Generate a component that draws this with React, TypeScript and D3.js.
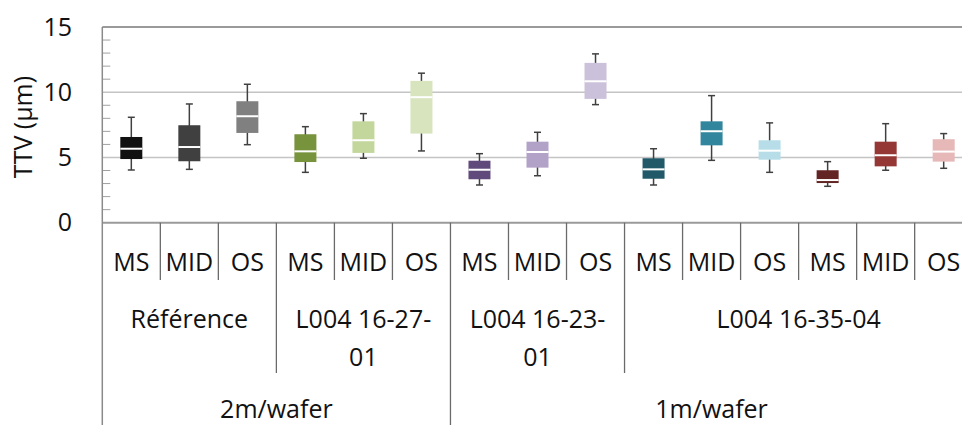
import React from "react";
import * as d3 from "d3";

const leafLabels = ["MS", "MID", "OS", "MS", "MID", "OS", "MS", "MID", "OS", "MS", "MID", "OS", "MS", "MID", "OS"];
const groupLabels = [["Référence"], ["L004 16-27-", "01"], ["L004 16-23-", "01"], ["L004 16-35-04"]];
const groupSpans = [[0, 3], [3, 6], [6, 9], [9, 15]];
const majorLabels = ["2m/wafer", "1m/wafer"];
const majorSpans = [[0, 6], [6, 15]];

const whiskerMax = [8.08, 9.1, 10.61, 7.36, 8.36, 11.46, 5.29, 6.93, 12.94, 5.67, 9.74, 7.65, 4.68, 7.59, 6.83];
const q3 = [6.57, 7.47, 9.31, 6.78, 7.77, 10.87, 4.75, 6.21, 12.25, 4.94, 7.77, 6.32, 4.02, 6.21, 6.4];
const medians = [5.67, 5.8, 8.16, 5.47, 6.32, 9.62, 4.06, 5.42, 10.84, 4.09, 7.01, 5.52, 3.27, 5.17, 5.45];
const q1 = [4.88, 4.71, 6.88, 4.65, 5.35, 6.83, 3.33, 4.22, 9.49, 3.37, 5.93, 4.83, 3.04, 4.32, 4.68];
const whiskerMin = [4.04, 4.09, 5.98, 3.86, 4.94, 5.5, 2.89, 3.6, 9.05, 2.89, 4.78, 3.86, 2.79, 4.02, 4.17];
const boxColors = ["#111111", "#404040", "#808080", "#77933c", "#c3d69b", "#d7e4bd", "#604a7b", "#b3a2c7", "#ccc1da", "#215968", "#31859c", "#b7dee8", "#632523", "#953735", "#e6b9b8"];

const yTicks = [0, 5, 10, 15];
const yMinorTicks = d3.range(1, 15).filter((v) => v % 5 !== 0);
const yTitle = "TTV (µm)";

const W = 962;
const H = 425;
const FONT = "'Open Sans', 'Noto Sans', sans-serif";

export default function App() {
  const x = d3.scaleBand<number>().domain(d3.range(leafLabels.length)).range([102.3, 972.7]).padding(0);
  const y = d3.scaleLinear().domain([0, 15]).range([222.7, 27]);
  const bw = 22;
  const cap = 7;
  const left = x.range()[0];
  const right = x.range()[1];
  const edge = (i: number) => (i < leafLabels.length ? (x(i) as number) : right);

  return (
    <div style={{ position: "absolute", left: 0, top: 0 }}>
      <svg width={W} height={H} style={{ display: "block", background: "#fff" }} fontFamily={FONT}>
        {yTicks.map((t) => (
          <line key={"g" + t} x1={left} x2={right} y1={y(t)} y2={y(t)}
            stroke={t === 0 || t === 15 ? "#9a9a9a" : "#c4c4c4"} strokeWidth={t === 0 || t === 15 ? 2 : 1.5} />
        ))}
        {yMinorTicks.map((t) => (
          <line key={"m" + t} x1={left} x2={left + 8} y1={y(t)} y2={y(t)} stroke="#a0a0a0" strokeWidth={1} />
        ))}
        <line x1={left} x2={left} y1={y(15)} y2={H} stroke="#8a8a8a" strokeWidth={1.5} />
        {yTicks.map((t) => (
          <text key={"t" + t} x={72} y={y(t)} dy="0.35em" textAnchor="end" fontSize={25} fill="#111">{t}</text>
        ))}
        <text transform={`translate(32,127) rotate(-90)`} textAnchor="middle" fontSize={25} fill="#111">{yTitle}</text>

        {leafLabels.map((_, i) => {
          const cx = (x(i) as number) + x.bandwidth() / 2;
          return (
            <g key={"b" + i}>
              <line x1={cx} x2={cx} y1={y(whiskerMax[i])} y2={y(whiskerMin[i])} stroke="#404040" strokeWidth={1.5} />
              <line x1={cx - cap / 2} x2={cx + cap / 2} y1={y(whiskerMax[i])} y2={y(whiskerMax[i])} stroke="#404040" strokeWidth={1.5} />
              <line x1={cx - cap / 2} x2={cx + cap / 2} y1={y(whiskerMin[i])} y2={y(whiskerMin[i])} stroke="#404040" strokeWidth={1.5} />
              <rect x={cx - bw / 2} y={y(q3[i])} width={bw} height={y(q1[i]) - y(q3[i])} fill={boxColors[i]} />
              <line x1={cx - bw / 2} x2={cx + bw / 2} y1={y(medians[i])} y2={y(medians[i])} stroke="#ffffff" strokeWidth={2} />
            </g>
          );
        })}

        {d3.range(1, leafLabels.length).map((i) => {
          const isMajor = majorSpans.some((s) => s[0] === i);
          const isGroup = groupSpans.some((s) => s[0] === i);
          const y2 = isMajor ? H : isGroup ? 373 : 280;
          return <line key={"d" + i} x1={edge(i)} x2={edge(i)} y1={y(0)} y2={y2} stroke="#6a6a6a" strokeWidth={1.3} />;
        })}

        {leafLabels.map((l, i) => (
          <text key={"l" + i} x={(x(i) as number) + x.bandwidth() / 2} y={271} textAnchor="middle" fontSize={25} fill="#111">{l}</text>
        ))}
        {groupLabels.map((lines, gi) => {
          const cx = (edge(groupSpans[gi][0]) + edge(groupSpans[gi][1])) / 2;
          return lines.map((ln, li) => (
            <text key={"gl" + gi + "-" + li} x={cx} y={328 + li * 38} textAnchor="middle" fontSize={25} fill="#111">{ln}</text>
          ));
        })}
        {majorLabels.map((m, mi) => {
          const cx = (edge(majorSpans[mi][0]) + edge(majorSpans[mi][1])) / 2;
          return <text key={"ml" + mi} x={cx} y={418} textAnchor="middle" fontSize={25} fill="#111">{m}</text>;
        })}
      </svg>
    </div>
  );
}
